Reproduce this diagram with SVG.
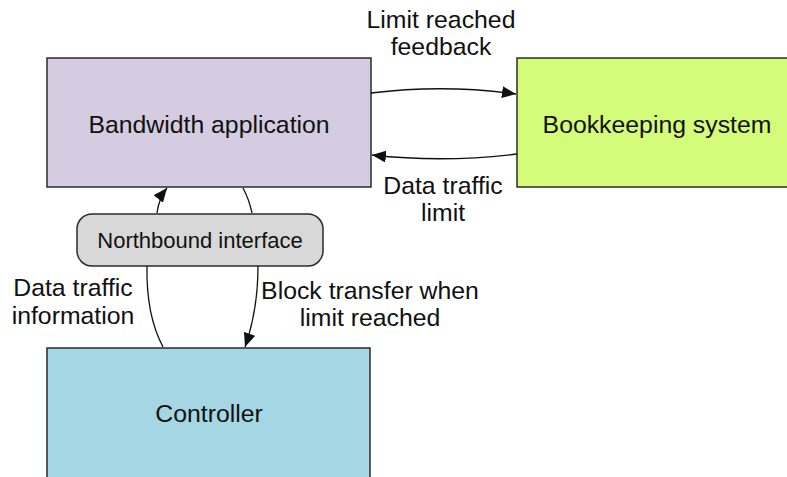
<svg xmlns="http://www.w3.org/2000/svg" width="787" height="477" viewBox="0 0 787 477">
  <defs>
    <style>
      .box { stroke: #2b2b2b; stroke-width: 1.5; }
      .lbl { font-family: "Liberation Sans", Arial, sans-serif; font-size: 24.8px; fill: #111; text-anchor: middle; }
      .small { font-size: 22px; }
      .edge { fill: none; stroke: #111; stroke-width: 1.3; }
    </style>
    <marker id="arrow" viewBox="0 0 10 10" refX="10" refY="5" markerWidth="14" markerHeight="12" markerUnits="userSpaceOnUse" orient="auto" preserveAspectRatio="none">
      <path d="M0,0 L10,5 L0,10 z" fill="#111"/>
    </marker>
  </defs>

  <rect width="787" height="477" fill="#ffffff"/>

  <g id="bandwidth-app">
    <rect class="box" x="47" y="58" width="324" height="129" fill="#d5cce1"/>
    <text class="lbl" x="209" y="133">Bandwidth application</text>
  </g>

  <g id="bookkeeping">
    <rect class="box" x="517" y="58" width="290" height="129" fill="#d5fb7a"/>
    <text class="lbl" x="657" y="133">Bookkeeping system</text>
  </g>

  <g id="controller">
    <rect class="box" x="47" y="348" width="323" height="140" fill="#a5d6e4"/>
    <text class="lbl" x="209" y="422">Controller</text>
  </g>

  <g id="northbound">
    <rect class="box" x="77" y="214" width="246" height="52" rx="15" ry="15" fill="#d8d8d8"/>
    <text class="lbl small" x="200" y="248">Northbound interface</text>
  </g>

  <g id="connectors">
    <path class="edge" d="M371,93 Q444,84 516,94" marker-end="url(#arrow)"/>
    <path class="edge" d="M517,154 Q444,163 372,155" marker-end="url(#arrow)"/>
    <path class="edge" d="M157,213 Q159,198 167,188" marker-end="url(#arrow)"/>
    <path class="edge" d="M243,188 Q249,199 252,213"/>
    <path class="edge" d="M147,266 Q146,315 163,347"/>
    <path class="edge" d="M258,266 Q258,310 245,347" marker-end="url(#arrow)"/>
  </g>

  <g id="edge-labels">
    <text class="lbl" x="441" y="28">Limit reached</text>
    <text class="lbl" x="441" y="55">feedback</text>
    <text class="lbl" x="443" y="194">Data traffic</text>
    <text class="lbl" x="443" y="221">limit</text>
    <text class="lbl" x="73" y="296">Data traffic</text>
    <text class="lbl" x="73" y="324">information</text>
    <text class="lbl" x="370" y="299">Block transfer when</text>
    <text class="lbl" x="370" y="326">limit reached</text>
  </g>
</svg>
